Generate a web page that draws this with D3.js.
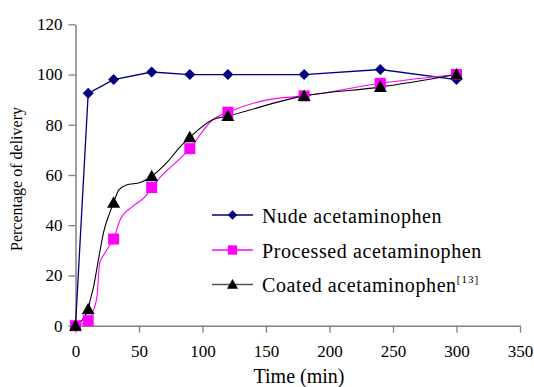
<!DOCTYPE html>
<html><head><meta charset="utf-8">
<script src="https://cdn.jsdelivr.net/npm/d3@7"></script>
<style>
body{margin:0;background:#fff;}
svg{display:block;}
</style></head>
<body><svg id="c" width="534" height="387"></svg>
<script>
// ---- data ----
const seriesNames = ["Nude acetaminophen", "Processed acetaminophen", "Coated acetaminophen"];
const markerTimes = [0, 10, 30, 60, 90, 120, 180, 240, 300];
const nudeValues = [0, 92.5, 98, 101, 100, 100, 100, 102, 98];
const processedValues = [0, 2, 34.5, 55, 70.5, 85, 91.5, 96.5, 100];
const coatedValues = [0, 6.5, 49, 59.5, 75, 83.5, 91.5, 95, 100];
// traced line paths (unmarked points)
const processedLineTimes = [0, 10, 14, 17, 19, 22, 27, 30, 35, 45, 56, 60, 90, 108, 120, 152, 180, 240, 300];
const processedLineValues = [0, 2, 6, 12, 25, 28, 32, 34.5, 42, 47.5, 52, 55, 70.5, 82, 85, 90, 91.5, 96.5, 100];
const coatedLineTimes = [0, 10, 11.5, 14, 19, 22, 27, 30, 34, 40, 51, 60, 72, 82, 90, 108, 120, 180, 240, 300];
const coatedLineValues = [0, 6.5, 10, 15, 29, 37, 45, 49, 54, 56, 57, 59.5, 65, 71, 75, 82, 83.5, 91.5, 95, 100];
const xTicks = [0, 50, 100, 150, 200, 250, 300, 350];
const yTicks = [0, 20, 40, 60, 80, 100, 120];
const xLabel = "Time (min)";
const yLabel = "Percentage of delivery";

const FONT = '"Liberation Serif"';
const svg = d3.select("#c");
const x = d3.scaleLinear().domain([0, 350]).range([75.5, 520]);
const y = d3.scaleLinear().domain([0, 120]).range([325.7, 24.3]);
const axisColor = "#808080";

// axes
const gx = svg.append("g").attr("transform", `translate(0,${y(0)})`)
  .call(d3.axisBottom(x).tickValues(xTicks).tickSize(7).tickSizeOuter(0).tickPadding(12).tickFormat(d3.format("d")));
const gy = svg.append("g").attr("transform", `translate(${x(0)},0)`)
  .call(d3.axisLeft(y).tickValues(yTicks).tickSize(7).tickSizeOuter(0).tickPadding(6).tickFormat(d3.format("d")));
[gx, gy].forEach(g => {
  g.attr("font-family", null).attr("font-size", null);
  g.select(".domain").attr("stroke", axisColor).attr("stroke-width", 1.5);
  g.selectAll(".tick line").attr("stroke", axisColor).attr("stroke-width", 1.3);
  g.selectAll(".tick text").attr("fill", "#000").style("font-family", FONT).style("font-size", "17px");
});

// axis titles
svg.append("text").attr("x", 299).attr("y", 383).attr("text-anchor", "middle")
  .style("font-family", FONT).style("font-size", "20px").text(xLabel);
svg.append("text").attr("transform", "translate(22,179) rotate(-90)").attr("text-anchor", "middle")
  .style("font-family", FONT).style("font-size", "16px").text(yLabel);

// lines
const lineGen = d3.line().x(d => x(d[0])).y(d => y(d[1]));
const nudePts = markerTimes.map((t, i) => [t, nudeValues[i]]);
const procLine = processedLineTimes.map((t, i) => [t, processedLineValues[i]]);
const coatLine = coatedLineTimes.map((t, i) => [t, coatedLineValues[i]]);
const procPts = markerTimes.map((t, i) => [t, processedValues[i]]);
const coatPts = markerTimes.map((t, i) => [t, coatedValues[i]]);

const navy = "#000080", magenta = "#FF00FF", black = "#000000";

svg.append("path").attr("d", lineGen.curve(d3.curveLinear)(nudePts)).attr("fill", "none").attr("stroke", navy).attr("stroke-width", 1.3);
svg.append("path").attr("d", lineGen.curve(d3.curveMonotoneX)(procLine)).attr("fill", "none").attr("stroke", magenta).attr("stroke-width", 1.1);
svg.append("path").attr("d", lineGen.curve(d3.curveMonotoneX)(coatLine)).attr("fill", "none").attr("stroke", black).attr("stroke-width", 1.1);

// marker shapes
const diamond = "M0,-5.5L5.5,0L0,5.5L-5.5,0Z";
const square = "M-5.5,-5.5H5.5V5.5H-5.5Z";
const triangle = "M0,-6.5L6.5,5L-6.5,5Z";

function markers(pts, d, color) {
  svg.append("g").selectAll("path").data(pts).join("path")
    .attr("d", d).attr("fill", color)
    .attr("transform", p => `translate(${x(p[0])},${y(p[1])})`);
}
markers(nudePts, diamond, navy);
markers(procPts, square, magenta);
markers(coatPts, triangle, black);

// legend
const legY = [215, 250, 284.5];
const legColors = [navy, magenta, black];
const legShapes = [diamond, square, triangle];
const leg = svg.append("g");
seriesNames.forEach((name, i) => {
  leg.append("line").attr("x1", 212).attr("x2", 253).attr("y1", legY[i]).attr("y2", legY[i])
    .attr("stroke", i === 2 ? "#555" : legColors[i]).attr("stroke-width", 1.3);
  leg.append("path").attr("d", legShapes[i]).attr("fill", legColors[i])
    .attr("transform", `translate(232.5,${legY[i]}) scale(0.85)`);
  const t = leg.append("text").attr("x", 262).attr("y", legY[i] + 7.5)
    .style("font-family", FONT).style("font-size", "20px").style("letter-spacing", "0.6px").text(name);
  if (i === 2) {
    t.append("tspan").attr("dy", -9).style("font-size", "11px").style("letter-spacing", "1px").text("[13]");
  }
});
</script></body></html>
